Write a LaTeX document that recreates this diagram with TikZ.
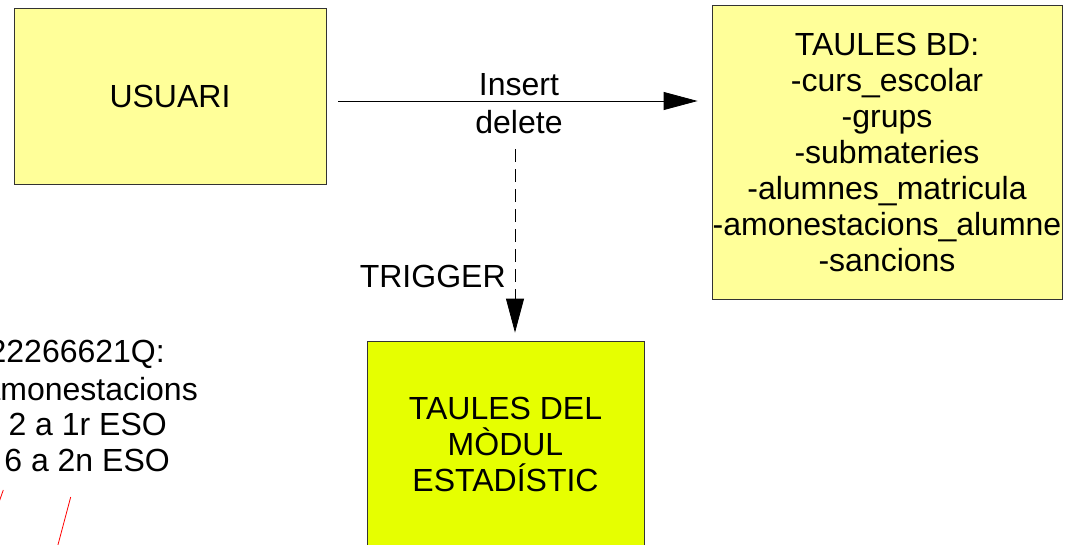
\documentclass[tikz,border=0pt]{standalone}
\usepackage{fontspec}
\setmainfont{Liberation Sans}
\usetikzlibrary{arrows.meta,positioning,calc}
\definecolor{grocclar}{HTML}{FFFF99}
\definecolor{grocllima}{HTML}{E6FF00}

\begin{document}
\begin{tikzpicture}[x=1pt,y=-1pt,
  lletra/.style={font=\fontsize{32}{36}\selectfont},
  caixa/.style={lletra,draw=black!80,line width=0.8pt,align=center,inner sep=0pt},
  fletxa/.style={-{Triangle[length=34pt,width=18pt]},line width=0.8pt},
  etiq/.style={lletra,inner sep=1pt}]
%retall de la imatge (el text de l'esquerra i la caixa de baix queden tallats)
  \clip (0,0) rectangle (1075,544);
  \node[caixa,fill=grocclar,minimum width=312pt,minimum height=176pt] (usuari) at (170,96) {USUARI};
  \node[caixa,fill=grocclar,minimum width=350pt,minimum height=294pt] (bd) at (887,152)
    {TAULES BD:\\-curs\_escolar\\-grups\\-submateries\\-alumnes\_matricula\\-amonestacions\_alumne\\-sancions};
  \node[caixa,fill=grocllima,minimum width=277pt,minimum height=206pt] (modul) at (505.5,444)
    {TAULES DEL\\MÒDUL\\ESTADÍSTIC};
%fletxa insert/delete
  \draw[fletxa,shorten <=12pt,shorten >=14pt] ([yshift=-5pt]usuari.east) -- ([yshift=-5pt]usuari.east -| bd.west)
    node[etiq,midway,above=4pt] (ins) {Insert} node[etiq,midway,below=8pt] (del) {delete};
%trigger
  \draw[fletxa,dash pattern=on 13pt off 7pt,shorten <=14pt,shorten >=8pt] ([xshift=-4pt]del.south) -- ([xshift=-4pt]del.south |- modul.north)
    node[etiq,pos=0.69,left=8pt] (trig) {TRIGGER};
%text de l'esquerra
  \node[etiq,anchor=east] (t1) at (166,354) {22266621Q:};
  \node[etiq,anchor=east] (t2) at (199,389) {amonestacions};
  \node[etiq,anchor=east] (t3) at (168,424) {2 a 1r ESO};
  \node[etiq,anchor=east] (t4) at (171,460) {6 a 2n ESO};
  \draw[red,line width=0.8pt] (-2,505) -- (3.3,490);
  \draw[red,line width=0.8pt] (70.7,497) -- (55,556);
\end{tikzpicture}
\end{document}
